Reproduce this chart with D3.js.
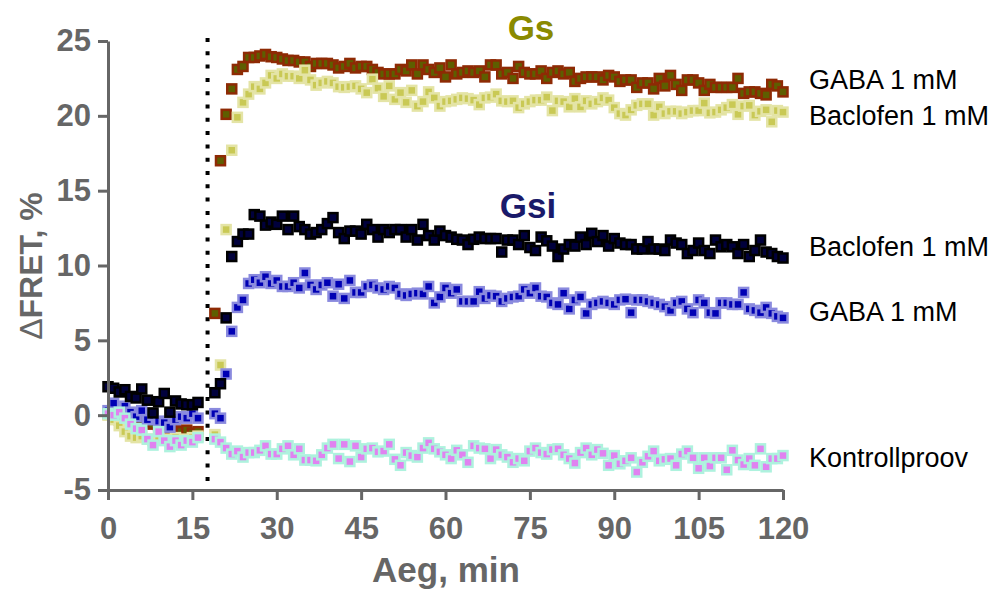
<!DOCTYPE html>
<html>
<head>
<meta charset="utf-8">
<script src="https://cdn.jsdelivr.net/npm/d3@7"></script>
<style>
  html, body { margin: 0; padding: 0; background: #fff; }
  svg { display: block; }
  text { font-family: "Liberation Sans", Arial, sans-serif; }
</style>
</head>
<body>
<svg id="chart" width="1007" height="596"></svg>
<script>
// ---------------- data ----------------
const timesMin = [0,1,2,3,4,5,6,7,8,9,10,11,12,13,14,15,16,
  19,20,21,22,23,24,25,26,27,28,29,
  30,31,32,33,34,35,36,37,38,39,
  40,41,42,43,44,45,46,47,48,49,
  50,51,52,53,54,55,56,57,58,59,
  60,61,62,63,64,65,66,67,68,69,
  70,71,72,73,74,75,76,77,78,79,
  80,81,82,83,84,85,86,87,88,89,
  90,91,92,93,94,95,96,97,98,99,
  100,101,102,103,104,105,106,107,108,109,
  110,111,112,113,114,115,116,117,118,119,
  120];

const gabaGs = [0.1,-0.1,-0.3,-0.4,-0.5,-0.4,-0.5,-0.4,-0.6,-0.7,-0.8,-0.9,-1.0,-1.1,-1.0,-1.2,-1.1,
  6.8,17.0,20.1,21.8,23.1,23.3,23.9,23.9,24.0,24.1,23.95,
  23.9,23.8,23.7,23.7,23.6,23.6,23.3,23.5,23.5,23.5,
  23.4,23.2,23.3,23.5,23.2,23.3,23.3,23.1,22.9,22.8,
  22.8,22.8,23.1,23.0,23.4,22.8,23.4,23.1,22.9,23.2,
  22.6,23.4,22.8,22.9,23.0,22.9,23.0,22.6,23.4,23.4,
  22.8,22.9,22.5,23.3,22.9,22.8,22.8,23.0,22.5,22.9,
  23.0,22.8,22.9,22.3,22.5,22.6,22.6,22.6,22.4,22.7,
  22.6,22.3,22.4,22.4,21.9,22.2,22.2,21.8,22.5,22.0,
  22.7,22.1,21.7,22.4,22.4,22.2,21.7,22.1,21.9,21.9,
  21.9,21.9,22.5,21.5,21.6,21.6,21.5,21.4,22.1,22.0,
  21.6];

const baclofenGs = [0.0,-0.3,-0.7,-1.1,-1.4,-1.5,-1.4,-1.6,-1.7,-1.5,-1.6,-1.7,-1.5,-1.8,-1.6,-1.5,-1.4,
  -1.3,3.35,12.4,17.7,19.9,20.9,21.45,21.95,21.8,22.2,22.7,
  22.5,22.8,22.65,22.65,22.5,23.05,22.4,22.05,22.2,22.3,
  22.2,21.95,21.9,21.95,22.0,21.8,21.55,22.45,21.85,21.3,
  22.0,21.1,21.55,20.9,21.7,20.65,20.95,21.6,21.2,20.65,
  20.95,21.0,21.1,21.2,21.15,21.05,20.75,21.2,21.25,21.45,
  21.0,20.95,21.0,20.55,20.8,20.95,21.05,21.05,21.25,20.35,
  21.0,20.95,20.6,21.15,20.6,21.0,20.8,20.95,21.2,21.05,
  20.55,20.15,20.05,20.4,20.7,20.8,20.8,20.05,20.6,20.15,
  20.3,20.3,20.15,20.25,20.35,20.35,20.85,20.2,20.25,20.4,
  20.55,20.75,20.1,20.65,20.7,20.05,20.3,20.4,19.6,20.35,
  20.25];

const baclofenGsi = [1.9,1.8,1.55,1.7,1.25,1.15,1.75,1.0,0.15,0.9,1.45,0.2,0.95,0.75,0.7,0.7,0.85,
  1.5,2.1,6.5,10.6,11.6,12.1,12.1,13.4,13.3,12.7,12.9,
  12.75,13.3,12.4,13.3,12.6,12.4,12.1,12.2,12.4,12.8,
  13.2,12.2,11.8,12.3,12.3,12.1,12.75,12.4,11.9,12.4,
  12.2,12.4,12.4,11.9,12.4,11.7,12.75,12.0,11.7,12.3,
  12.0,11.9,11.75,11.7,11.4,11.75,11.9,11.8,11.8,11.8,
  10.9,11.7,11.7,11.4,12.0,11.2,11.0,11.9,11.65,11.3,
  10.6,11.1,11.4,11.3,11.9,11.4,12.15,11.6,12.0,11.3,
  11.8,11.5,11.4,11.4,11.1,11.1,11.6,11.1,11.1,11.0,
  11.7,11.5,11.4,10.8,11.0,11.5,11.0,10.8,11.7,11.25,
  11.4,11.25,10.8,11.4,10.6,11.0,11.7,10.9,10.8,10.6,
  10.5];

const gabaGsi = [0.3,0.8,0.1,0.6,0.2,-0.1,0.3,-0.3,0.0,-0.4,-0.5,-0.8,-0.3,-0.1,-0.2,0.1,-0.2,
  0.1,-0.2,2.75,5.6,7.2,7.7,8.8,9.05,8.85,9.25,8.8,
  9.0,8.6,8.6,8.85,8.5,9.5,8.7,8.4,8.7,8.85,
  7.95,8.75,7.8,9.0,8.2,8.2,8.6,8.7,8.5,8.4,
  8.6,8.5,8.1,8.0,8.1,8.15,8.1,8.6,7.5,7.9,
  8.5,8.15,8.4,7.6,7.6,7.6,8.25,7.8,8.0,7.95,
  7.6,7.8,7.9,7.95,8.4,8.15,8.5,7.95,7.9,7.5,
  7.4,8.15,7.1,7.7,7.9,6.8,7.4,7.5,7.6,7.5,
  7.4,7.7,7.75,6.85,7.7,7.7,7.6,7.5,7.4,7.25,
  7.0,7.5,7.6,7.1,6.85,7.7,7.5,6.85,6.8,7.5,
  7.5,7.4,7.4,8.2,7.1,7.0,6.85,7.2,6.8,6.6,
  6.5];

const kontroll = [0.1,0.0,0.2,-0.2,-0.6,-0.9,-1.0,-1.6,-2.0,-1.1,-1.7,-2.1,-1.7,-2.0,-1.7,-1.8,-1.5,
  -1.6,-1.8,-2.2,-2.6,-2.4,-2.8,-2.5,-2.5,-2.35,-2.05,-2.6,
  -2.6,-2.25,-2.05,-2.65,-2.25,-3.0,-3.0,-3.05,-2.65,-2.2,
  -1.95,-2.9,-1.95,-3.1,-2.05,-2.8,-2.25,-2.2,-2.45,-2.4,
  -1.95,-2.95,-3.35,-2.5,-2.7,-2.8,-2.2,-1.85,-2.25,-2.45,
  -2.65,-2.9,-2.35,-2.65,-3.15,-2.05,-2.2,-2.25,-2.9,-2.3,
  -2.65,-2.8,-3.15,-2.9,-3.05,-2.4,-2.2,-2.5,-2.6,-2.3,
  -2.25,-2.65,-2.9,-3.2,-2.5,-2.2,-2.65,-2.3,-2.55,-3.35,
  -2.7,-3.25,-3.05,-2.85,-3.8,-3.15,-2.75,-2.4,-3.05,-2.95,
  -2.9,-3.35,-2.6,-2.4,-2.85,-3.55,-2.85,-3.4,-2.85,-2.85,
  -3.65,-2.35,-3.0,-3.3,-2.9,-3.35,-2.25,-3.45,-2.9,-2.9,
  -2.7];

const xTicks = [0,15,30,45,60,75,90,105,120];
const yTicks = [-5,0,5,10,15,20,25];
const stimulusTime = 17.7;

// right-hand labels, top to bottom, with the ΔFRET level they sit at
const labelNames = ["GABA 1 mM", "Baclofen 1 mM", "Baclofen 1 mM", "GABA 1 mM", "Kontrollproov"];
const labelValues = [22.45, 20.0, 11.25, 6.9, -2.8];
const groupTitles = ["Gs", "Gsi"];

// ---------------- layout / styles ----------------
const W = 1007, H = 596;
const svg = d3.select("#chart");
svg.append("rect").attr("width", W).attr("height", H).attr("fill", "#fff");

const x = d3.scaleLinear().domain([0, 120]).range([108, 783]);
const y = d3.scaleLinear().domain([-5, 25]).range([490, 41]);

const AX = "#666666";

const series = [
  {values: gabaGs,      fill: "#5e5e00", stroke: "#8e2a04"},
  {values: baclofenGs,  fill: "#c9c955", stroke: "#e4e4a6"},
  {values: gabaGsi,     fill: "#0000b4", stroke: "#8a8ade"},
  {values: baclofenGsi, fill: "#00003c", stroke: "#000000"},
  {values: kontroll,    fill: "#e082f0", stroke: "#aef2de"}
];

// dotted stimulus line
svg.append("line")
  .attr("x1", x(stimulusTime)).attr("x2", x(stimulusTime))
  .attr("y1", 38).attr("y2", 492)
  .attr("stroke", "#000").attr("stroke-width", 4)
  .attr("stroke-dasharray", "4 9.3");

// points
const S = 9;
series.forEach(s => {
  const pts = timesMin.map((t, i) => [t, s.values[i]]).filter(d => d[1] != null);
  svg.append("g").selectAll("rect").data(pts).join("rect")
    .attr("x", d => x(d[0]) - S / 2)
    .attr("y", d => y(d[1]) - S / 2)
    .attr("width", S).attr("height", S)
    .attr("fill", s.fill)
    .attr("stroke", s.stroke)
    .attr("stroke-width", 2.5);
});

// axes
const yAxis = svg.append("g").attr("transform", `translate(${x(0)},0)`)
  .call(d3.axisLeft(y).tickValues(yTicks).tickFormat(d3.format("d")).tickSize(10).tickSizeOuter(0).tickPadding(7));
const xAxis = svg.append("g").attr("transform", `translate(0,${y(-5)})`)
  .call(d3.axisBottom(x).tickValues(xTicks).tickFormat(d3.format("d")).tickSize(10).tickSizeOuter(0).tickPadding(17));

[yAxis, xAxis].forEach(g => {
  g.select(".domain").attr("stroke", AX).attr("stroke-width", 3);
  g.selectAll(".tick line").attr("stroke", AX).attr("stroke-width", 3);
  g.selectAll(".tick text")
    .attr("fill", AX)
    .style("font-family", "'Liberation Sans', Arial, sans-serif")
    .style("font-weight", "bold")
    .style("font-size", "31px");
});
yAxis.selectAll(".tick text").text(d => d < 0 ? "-" + Math.abs(d) : d);

// axis titles
svg.append("text")
  .attr("x", 446).attr("y", 582)
  .attr("text-anchor", "middle")
  .attr("fill", AX)
  .style("font-weight", "bold").style("font-size", "35px")
  .text("Aeg, min");

const yt = svg.append("text")
  .attr("transform", "translate(42,266) rotate(-90)")
  .attr("text-anchor", "middle")
  .attr("fill", AX)
  .style("font-weight", "bold").style("font-size", "32px");
yt.append("tspan").style("font-weight", "normal").text("\u0394");
yt.append("tspan").text("FRET, %");

// group titles
svg.append("text")
  .attr("x", 531).attr("y", 40).attr("text-anchor", "middle")
  .attr("fill", "#8a8a00")
  .style("font-weight", "bold").style("font-size", "35px")
  .text(groupTitles[0]);
svg.append("text")
  .attr("x", 528).attr("y", 218).attr("text-anchor", "middle")
  .attr("fill", "#1a1a6a")
  .style("font-weight", "bold").style("font-size", "35px")
  .text(groupTitles[1]);

// series labels on the right
svg.append("g").selectAll("text").data(labelNames).join("text")
  .attr("x", 809)
  .attr("y", (d, i) => y(labelValues[i]))
  .attr("dy", "0.35em")
  .attr("fill", "#000")
  .style("font-size", "27px")
  .text(d => d);
</script>
</body>
</html>
